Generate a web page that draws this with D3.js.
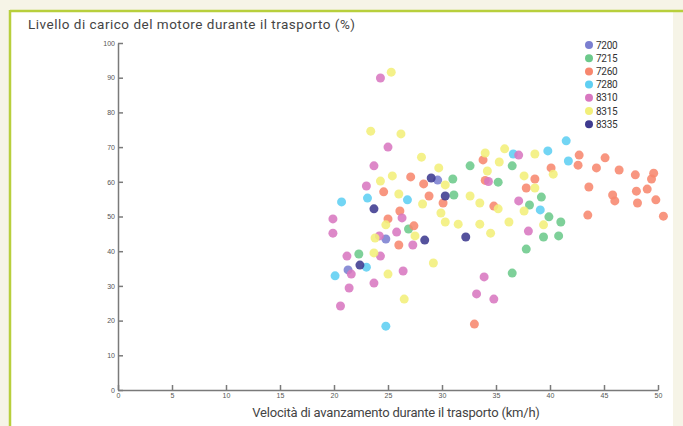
<!DOCTYPE html>
<html>
<head>
<meta charset="utf-8">
<script src="https://cdn.jsdelivr.net/npm/d3@7"></script>
<style>
  body { margin: 0; background: #f6f4e7; }
  svg { display: block; font-family: Roboto, "Liberation Sans", sans-serif; }
  .axis path, .axis line { stroke: #7a7a7a; stroke-width: 1.5; }
  .axis text { fill: #555; font-size: 7px; }
</style>
</head>
<body>
<svg id="chart" width="683" height="426"></svg>
<script>
// series names, in legend order
var series = ['7200', '7215', '7260', '7280', '8310', '8315', '8335'];
var colors = ['#7b7fd0', '#6cc98b', '#f7876e', '#5fcff2', '#d877c0', '#f2ef7a', '#3e3a8f'];

// [speed km/h, load %]
var s7200 = [[29.6,60.5],[24.8,43.5],[21.3,34.6]];
var s7215 = [[31.0,60.8],[31.1,56.2],[26.9,46.4],[22.3,39.2],[32.6,64.6],[35.2,59.9],[36.5,64.6],
  [39.2,55.6],[38.1,53.3],[39.9,49.9],[41.0,48.4],[39.4,44.1],[40.8,44.4],[37.8,40.6],[36.5,33.7]];
var s7260 = [[27.1,61.4],[28.3,59.4],[24.6,57.1],[28.8,55.9],[30.1,53.9],[26.1,51.6],[25.0,49.3],
  [27.4,47.3],[26.0,41.8],[33.8,66.3],[34.0,60.4],[34.8,53.0],[42.7,67.7],[42.6,64.8],[40.1,64.0],
  [38.6,60.8],[37.8,58.2],[45.1,66.9],[44.3,64.0],[46.4,63.4],[47.9,62.0],[49.6,62.5],[49.4,60.8],
  [43.6,58.5],[48.0,57.3],[49.0,57.9],[45.8,56.2],[46.0,54.5],[48.1,53.9],[49.8,54.8],[50.5,50.1],
  [43.5,50.4],[33.0,19.0]];
var s7280 = [[23.1,55.3],[26.8,54.8],[20.7,54.2],[23.0,35.4],[20.1,32.9],[24.8,18.4],[41.5,71.8],
  [39.8,68.9],[36.6,68.0],[41.7,66.0],[39.1,51.9]];
var s8310 = [[24.3,89.9],[25.0,70.0],[23.7,64.6],[23.0,58.8],[19.9,49.3],[26.3,49.6],[19.9,45.2],
  [25.8,45.5],[24.2,44.4],[27.3,41.8],[21.2,38.6],[24.3,38.6],[21.6,33.4],[26.4,34.3],[23.7,30.8],
  [21.4,29.4],[20.6,24.2],[33.9,32.6],[33.2,27.7],[34.8,26.2],[37.1,67.7],[34.3,60.1],[37.1,54.5],
  [38.0,45.8]];
var s8315 = [[25.3,91.6],[23.4,74.6],[26.2,73.8],[28.1,67.1],[25.4,61.7],[24.3,60.2],[30.3,59.1],
  [26.0,56.5],[28.2,53.6],[29.9,51.0],[30.3,48.4],[24.8,47.6],[27.5,44.4],[23.8,43.8],[23.7,39.5],
  [31.5,47.8],[32.6,55.9],[33.5,53.9],[33.5,47.8],[34.5,45.2],[34.0,68.3],[35.3,65.7],[34.2,63.1],
  [35.8,69.5],[35.2,52.2],[36.2,48.4],[38.6,68.0],[40.3,62.2],[29.7,64.0],[37.6,61.7],[38.6,58.2],
  [37.6,51.6],[39.4,47.6],[25.0,33.4],[29.2,36.6],[26.5,26.2]];
var s8335 = [[23.7,52.2],[30.3,55.9],[32.2,44.1],[28.4,43.2],[22.4,36.0],[29.0,61.1]];

var xTicks = [0, 5, 10, 15, 20, 25, 30, 35, 40, 45, 50];
var yTicks = [0, 10, 20, 30, 40, 50, 60, 70, 80, 90, 100];

var data = [s7200, s7215, s7260, s7280, s8310, s8315, s8335];

var svg = d3.select("#chart");

// panel with green frame
svg.append("rect").attr("x", 10).attr("y", 11).attr("width", 663).attr("height", 420).attr("fill", "#fff");
svg.append("line").attr("x1", 10).attr("x2", 683).attr("y1", 11).attr("y2", 11)
  .attr("stroke", "#b8cf3c").attr("stroke-width", 2.5);
svg.append("line").attr("x1", 10).attr("x2", 10).attr("y1", 10).attr("y2", 426)
  .attr("stroke", "#b8cf3c").attr("stroke-width", 2.5);

var x = d3.scaleLinear().domain([0, 50]).range([118, 658]);
var y = d3.scaleLinear().domain([0, 100]).range([390, 43]);
var z = d3.scaleOrdinal().domain(series).range(colors);

svg.append("g")
  .attr("class", "axis")
  .attr("transform", "translate(0,390)")
  .call(d3.axisBottom(x).tickValues(xTicks).tickSize(-5).tickSizeOuter(0).tickPadding(3));

svg.append("g")
  .attr("class", "axis")
  .attr("transform", "translate(118,0)")
  .call(d3.axisLeft(y).tickValues(yTicks).tickSize(-5).tickSizeOuter(0).tickPadding(3));

svg.append("text")
  .attr("x", 28).attr("y", 29)
  .attr("fill", "#444").attr("font-size", 13.5).attr("letter-spacing", 0.5)
  .text("Livello di carico del motore durante il trasporto (%)");

svg.append("text")
  .attr("x", 396).attr("y", 417)
  .attr("text-anchor", "middle")
  .attr("fill", "#444").attr("font-size", 13).attr("letter-spacing", -0.2)
  .text("Velocità di avanzamento durante il trasporto (km/h)");

// points
series.forEach(function(s, i) {
  svg.append("g").selectAll("circle")
    .data(data[i])
    .enter().append("circle")
      .attr("cx", d => x(d[0]))
      .attr("cy", d => y(d[1]))
      .attr("r", 4.5)
      .attr("fill", z(s))
      .attr("fill-opacity", 0.88);
});

// legend
var legend = svg.append("g").selectAll("g")
  .data(series)
  .enter().append("g")
    .attr("transform", (d, i) => "translate(589," + (45 + i * 13.2) + ")");
legend.append("circle").attr("r", 4).attr("fill", d => z(d));
legend.append("text").attr("x", 7).attr("y", 3.5)
  .attr("font-size", 10).attr("fill", "#333").attr("letter-spacing", -0.3)
  .text(d => d);
</script>
</body>
</html>
